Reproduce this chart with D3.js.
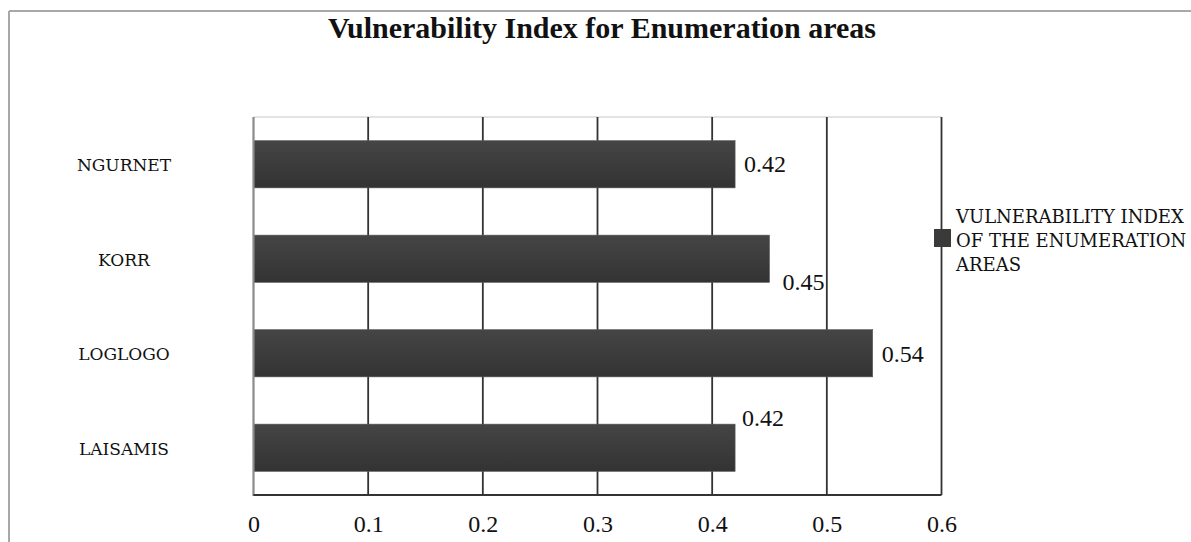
<!DOCTYPE html>
<html><head><meta charset="utf-8">
<script src="https://cdn.jsdelivr.net/npm/d3@7/dist/d3.min.js"></script>
<style>html,body{margin:0;padding:0;background:#fff;}svg{display:block;}</style>
</head><body>
<svg id="chart" width="1191" height="542"></svg>
<script>
const categories = ["NGURNET", "KORR", "LOGLOGO", "LAISAMIS"];
const values = [0.42, 0.45, 0.54, 0.42];
const xTicks = [0, 0.1, 0.2, 0.3, 0.4, 0.5, 0.6];
const title = "Vulnerability Index for Enumeration areas";
const legendLines = ["VULNERABILITY INDEX", "OF THE ENUMERATION", "AREAS"];

const svg = d3.select("#chart");
const W = 1191, H = 542;
const plot = {left: 253.5, right: 941.5, top: 117, bottom: 495};

// frame
svg.append("line").attr("x1", 9).attr("x2", W).attr("y1", 11).attr("y2", 11).attr("stroke", "#a8a8a8").attr("stroke-width", 2);
svg.append("line").attr("x1", 9).attr("x2", 9).attr("y1", 11).attr("y2", H).attr("stroke", "#a8a8a8").attr("stroke-width", 2);

const defs = svg.append("defs");
const grad = defs.append("linearGradient").attr("id", "barGrad").attr("x1", 0).attr("x2", 0).attr("y1", 0).attr("y2", 1);
grad.append("stop").attr("offset", "0%").attr("stop-color", "#454545");
grad.append("stop").attr("offset", "100%").attr("stop-color", "#333333");

const x = d3.scaleLinear().domain([0, 0.6]).range([plot.left, plot.right]);
const y = d3.scaleBand().domain(categories).range([plot.top, plot.bottom]).paddingInner(0.5).paddingOuter(0.25);

// top border of plot area
svg.append("line").attr("x1", plot.left).attr("x2", plot.right).attr("y1", plot.top).attr("y2", plot.top).attr("stroke", "#c8c8c8").attr("stroke-width", 1);

// gridlines
svg.append("g").selectAll("line").data(xTicks.slice(1)).join("line")
  .attr("x1", d => x(d)).attr("x2", d => x(d))
  .attr("y1", plot.top).attr("y2", plot.bottom)
  .attr("stroke", "#333333").attr("stroke-width", 1.8);

// bars
svg.append("g").selectAll("rect").data(values).join("rect")
  .attr("x", x(0)).attr("y", (d, i) => y(categories[i]))
  .attr("width", d => x(d) - x(0)).attr("height", y.bandwidth())
  .attr("fill", "url(#barGrad)").attr("stroke", "#5a5a5a").attr("stroke-width", 0.6);

// axes lines
svg.append("line").attr("x1", plot.left).attr("x2", plot.left).attr("y1", plot.top).attr("y2", plot.bottom + 1).attr("stroke", "#8a8a8a").attr("stroke-width", 2.2);
svg.append("line").attr("x1", plot.left).attr("x2", plot.right).attr("y1", plot.bottom).attr("y2", plot.bottom).attr("stroke", "#333333").attr("stroke-width", 1.8);

// x tick labels
const xAxis = d3.axisBottom(x).tickValues(xTicks).tickSize(0).tickPadding(0).tickFormat(d3.format("~g"));
const gx = svg.append("g").attr("transform", `translate(0,${plot.bottom})`).call(xAxis);
gx.select(".domain").remove();
gx.selectAll("text").attr("font-family", "'Liberation Serif', 'Times New Roman', serif").attr("font-size", 24)
  .attr("fill", "#111").attr("dy", null).attr("y", 37);

// category labels
const yAxis = d3.axisLeft(y).tickSize(0).tickPadding(0);
const gy = svg.append("g").attr("transform", `translate(124,0)`).call(yAxis);
gy.select(".domain").remove();
gy.selectAll("text").attr("font-family", "'DejaVu Serif', serif").attr("font-size", 17)
  .attr("fill", "#111").attr("text-anchor", "middle").attr("dy", "0.4em");

// value labels (offsets as in reference)
const labelOffsets = [[9, 8], [13, 31], [9, 9], [7, -22]];
svg.append("g").selectAll("text").data(values).join("text")
  .attr("x", (d, i) => x(d) + labelOffsets[i][0])
  .attr("y", (d, i) => y(categories[i]) + y.bandwidth() / 2 + labelOffsets[i][1])
  .attr("font-family", "'Liberation Serif', 'Times New Roman', serif").attr("font-size", 24)
  .attr("fill", "#111").text(d => d);

// title
svg.append("text").attr("x", 602).attr("y", 38).attr("text-anchor", "middle")
  .attr("font-family", "'Liberation Serif', 'Times New Roman', serif").attr("font-weight", "bold").attr("font-size", 30)
  .attr("fill", "#111").text(title);

// legend
svg.append("rect").attr("x", 934).attr("y", 229).attr("width", 17).attr("height", 18).attr("fill", "#3a3a3a");
const lg = svg.append("text").attr("font-family", "'DejaVu Serif', serif").attr("font-size", 18).attr("fill", "#111");
legendLines.forEach((t, i) => {
  lg.append("tspan").attr("x", 956).attr("y", 222.5 + i * 24).text(t);
});
</script>
</body></html>
